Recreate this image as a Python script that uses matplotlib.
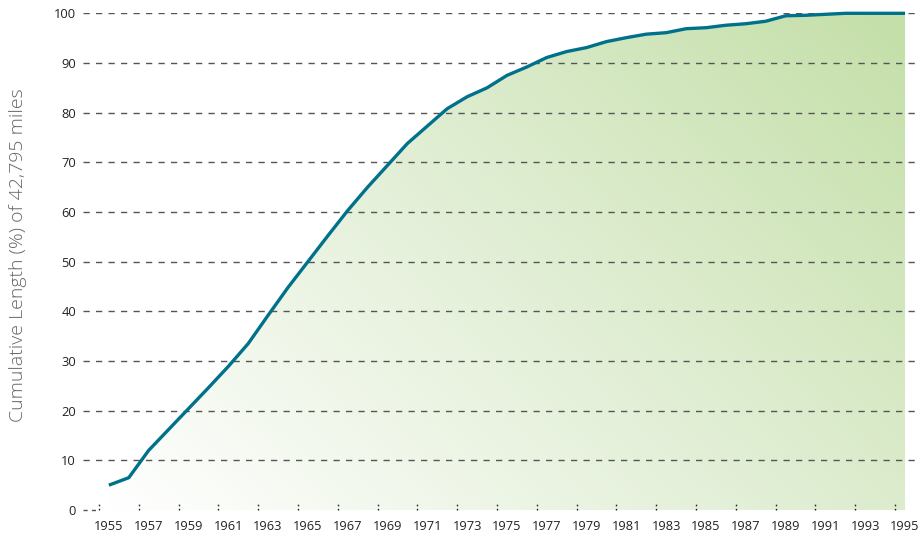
import numpy as np
import matplotlib
matplotlib.use("Agg")
import matplotlib.pyplot as plt
from matplotlib.colors import LinearSegmentedColormap
from matplotlib.patches import Polygon
import matplotlib.transforms as mtransforms

years = list(range(1955, 1996))
cum_pct = [5.0, 6.5, 12.0, 16.2, 20.4, 24.6, 28.9, 33.5, 39.2, 44.8,
           50.0, 55.2, 60.3, 65.0, 69.4, 73.8, 77.3, 80.8, 83.2, 85.0,
           87.5, 89.2, 91.1, 92.3, 93.1, 94.3, 95.1, 95.8, 96.1, 96.9,
           97.1, 97.6, 97.9, 98.4, 99.5, 99.6, 99.8, 100.0, 100.0, 100.0,
           100.0]
tick_years = list(range(1955, 1996, 2))
yticks = list(range(0, 101, 10))
ylabel = "Cumulative Length (%) of 42,795 miles"

plt.rcParams['font.family'] = ['Open Sans', 'DejaVu Sans']

fig = plt.figure(figsize=(9.22, 5.39), dpi=100)
ax = fig.add_axes([0.090, 0.0538, 0.9024, 0.9215])

x = np.array(years) + 0.5
y = np.array(cum_pct)

ax.set_xlim(1954.2, 1996.0)
ax.set_ylim(0, 100)

# gradient fill under the curve
cmap = LinearSegmentedColormap.from_list("g", ["#ffffff", "#e2efd6", "#c4dfa8"])
nx, ny = 300, 200
u = np.linspace(0, 1, nx)[None, :]
v = np.linspace(0, 1, ny)[:, None]
grad = 0.6 * u + 0.4 * v
grad = grad / grad.max()
img = ax.imshow(grad, cmap=cmap, origin='lower', aspect='auto',
                extent=[x[0], x[-1], 0, 100], zorder=1, vmin=0, vmax=1)
verts = np.column_stack([np.r_[x[0], x, x[-1]], np.r_[0, y, 0]])
poly = Polygon(verts, closed=True, facecolor='none', edgecolor='none')
ax.add_patch(poly)
img.set_clip_path(poly)

# grid lines
for yt in yticks[1:]:
    ax.axhline(yt, color='#555555', lw=1.0, ls=(0, (4.5, 4.5)), zorder=2)
ax.plot([1954.2, 1955.0], [0, 0], color='#555555', lw=1.0, ls=(0, (3, 3)),
        zorder=2, clip_on=False)

# tick marks (dotted, inward) at year boundaries
trans = mtransforms.blended_transform_factory(ax.transData, ax.transAxes)
for t in tick_years:
    ax.plot([t, t], [0.0, 0.014], transform=trans, color='#222222', lw=1.0,
            ls=(0, (1.2, 1.8)), zorder=3, clip_on=False)

ax.plot(x, y, color='#00718b', lw=2.4, zorder=4, clip_on=False,
        solid_joinstyle='round', solid_capstyle='butt')

ax.set_xticks(np.array(tick_years) + 0.5)
ax.set_xticklabels([str(t) for t in tick_years], fontsize=9.3, color='#222222')
ax.set_yticks(yticks)
ax.set_yticklabels([str(t) for t in yticks], fontsize=9.3, color='#222222')
ax.tick_params(axis='x', length=0, pad=7)
ax.tick_params(axis='y', length=0, pad=5)

for s in ax.spines.values():
    s.set_visible(False)

fig.text(0.020, 0.527, ylabel, rotation=90, ha='center', va='center',
         fontsize=14, color='#666666', fontweight='light')

fig.savefig("out.png", dpi=100)
